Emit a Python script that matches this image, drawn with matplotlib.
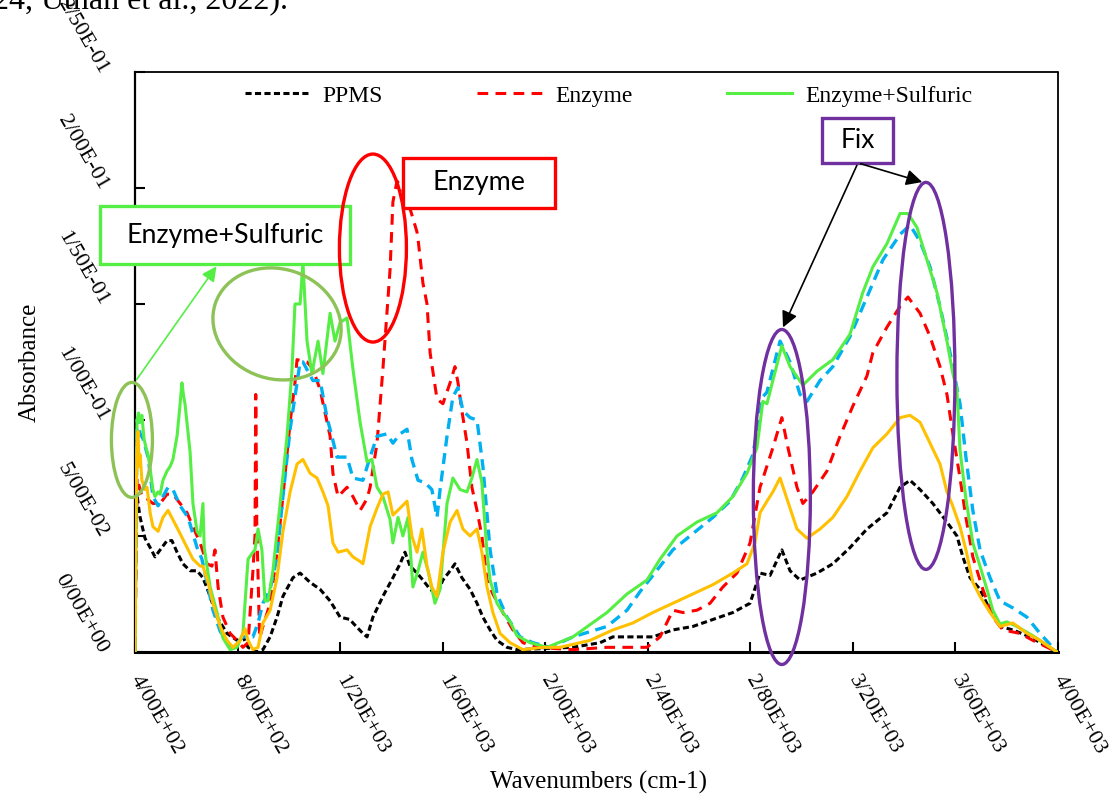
import matplotlib.pyplot as plt
from matplotlib.patches import Ellipse, Rectangle
from matplotlib.transforms import IdentityTransform

# FTIR spectra (wavenumber cm-1, absorbance)
ppms_wn = [400, 404, 408, 412, 420, 439, 459, 478, 498, 525, 544, 564, 587, 615, 642, 665, 693, 720, 759, 798,
           821, 841, 876, 899, 927, 954, 977, 1016, 1044, 1083, 1122, 1161, 1200, 1239, 1250, 1289, 1305, 1328,
           1367, 1406, 1434, 1453, 1473, 1500, 1523, 1551, 1578, 1601, 1629, 1648, 1675, 1707, 1734, 1757, 1785,
           1812, 1851, 1890, 2108, 2214, 2264, 2420, 2498, 2576, 2654, 2732, 2799, 2838, 2877, 2923, 2955, 2994,
           3060, 3122, 3189, 3255, 3333, 3384, 3423, 3462, 3512, 3567, 3606, 3629, 3657, 3696, 3735, 3774, 3824,
           3891, 3996]
ppms_abs = [0, 0.055, 0.068, 0.064, 0.058, 0.049, 0.045, 0.041, 0.044, 0.048, 0.048, 0.043, 0.038, 0.035, 0.035,
            0.032, 0.024, 0.015, 0.008, 0.005, 0.0065, 0.002, 0.0, 0.001, 0.0065, 0.015, 0.024, 0.032, 0.034, 0.030,
            0.027, 0.022, 0.015, 0.014, 0.0125, 0.008, 0.0065, 0.015, 0.024, 0.032, 0.038, 0.043, 0.037, 0.034,
            0.031, 0.027, 0.025, 0.031, 0.035, 0.038, 0.032, 0.027, 0.021, 0.015, 0.0095, 0.005, 0.002, 0.001,
            0.002, 0.004, 0.0065, 0.0065, 0.0095, 0.011, 0.014, 0.017, 0.021, 0.034, 0.033, 0.044, 0.035, 0.031,
            0.034, 0.038, 0.045, 0.053, 0.060, 0.071, 0.074, 0.070, 0.064, 0.056, 0.050, 0.041, 0.032, 0.027,
            0.018, 0.011, 0.0095, 0.0065, 0.0]

enz_wn = [400, 408, 427, 447, 470, 498, 525, 548, 576, 603, 626, 654, 681, 700, 712, 724, 743, 771, 798, 821,
          841, 860, 868, 871, 875, 886, 899, 927, 954, 977, 1005, 1024, 1032, 1071, 1094, 1122, 1161, 1172, 1192,
          1227, 1250, 1278, 1305, 1317, 1344, 1367, 1395, 1406, 1422, 1441, 1473, 1500, 1504, 1523, 1539, 1551,
          1578, 1601, 1629, 1648, 1660, 1675, 1695, 1714, 1734, 1753, 1773, 1796, 1835, 1874, 1913, 1968, 2108,
          2241, 2397, 2448, 2498, 2537, 2592, 2643, 2693, 2748, 2799, 2838, 2888, 2923, 2947, 2982, 3005, 3044,
          3099, 3150, 3200, 3255, 3278, 3333, 3384, 3415, 3462, 3501, 3540, 3567, 3590, 3618, 3641, 3668, 3707,
          3746, 3785, 3852, 3902, 3996]
enz_abs = [0, 0.075, 0.067, 0.066, 0.064, 0.064, 0.068, 0.068, 0.064, 0.060, 0.054, 0.047, 0.038, 0.037, 0.044,
           0.028, 0.015, 0.008, 0.005, 0.002, 0.004, 0.035, 0.050, 0.111, 0.055, 0.006, 0.011, 0.021, 0.043, 0.067,
           0.099, 0.116, 0.126, 0.125, 0.122, 0.113, 0.093, 0.077, 0.067, 0.071, 0.067, 0.061, 0.066, 0.071, 0.090,
           0.122, 0.165, 0.194, 0.203, 0.200, 0.191, 0.181, 0.178, 0.159, 0.150, 0.129, 0.109, 0.107, 0.116, 0.123,
           0.116, 0.104, 0.090, 0.071, 0.061, 0.050, 0.031, 0.025, 0.017, 0.0095, 0.004, 0.002, 0.001, 0.002,
           0.002, 0.0065, 0.018, 0.017, 0.018, 0.021, 0.028, 0.034, 0.047, 0.071, 0.088, 0.101, 0.088, 0.071,
           0.064, 0.069, 0.078, 0.093, 0.106, 0.119, 0.129, 0.140, 0.149, 0.153, 0.146, 0.136, 0.123, 0.111, 0.094,
           0.075, 0.058, 0.041, 0.027, 0.015, 0.0095, 0.008, 0.005, 0.0]

sulf_wn = [400, 408, 414, 420, 427, 435, 443, 451, 459, 470, 478, 490, 498, 509, 525, 537, 548, 564, 576, 583,
           590, 595, 615, 626, 642, 654, 665, 670, 693, 720, 743, 771, 798, 821, 841, 860, 868, 880, 895, 907,
           919, 938, 966, 993, 1012, 1024, 1044, 1055, 1071, 1090, 1114, 1133, 1161, 1180, 1200, 1227, 1250, 1278,
           1305, 1324, 1344, 1367, 1395, 1406, 1426, 1445, 1465, 1484, 1504, 1523, 1543, 1570, 1590, 1617, 1640,
           1668, 1695, 1714, 1734, 1753, 1773, 1785, 1812, 1835, 1863, 1890, 1941, 2007, 2108, 2241, 2319, 2397,
           2448, 2514, 2592, 2670, 2732, 2787, 2826, 2849, 2865, 2888, 2923, 2955, 3005, 3060, 3122, 3189, 3239,
           3278, 3333, 3384, 3415, 3450, 3489, 3528, 3567, 3590, 3606, 3618, 3641, 3668, 3696, 3723, 3746, 3774,
           3800, 3840, 3902, 3996]
sulf_abs = [0, 0.100, 0.103, 0.099, 0.102, 0.092, 0.088, 0.085, 0.079, 0.070, 0.067, 0.069, 0.068, 0.074, 0.078,
            0.080, 0.083, 0.093, 0.107, 0.116, 0.110, 0.107, 0.086, 0.064, 0.052, 0.050, 0.064, 0.045, 0.028, 0.017,
            0.006, 0.001, 0.002, 0.008, 0.040, 0.043, 0.044, 0.053, 0.044, 0.022, 0.022, 0.035, 0.064, 0.093, 0.121,
            0.150, 0.150, 0.168, 0.134, 0.120, 0.134, 0.120, 0.146, 0.134, 0.142, 0.144, 0.122, 0.099, 0.082, 0.083,
            0.071, 0.067, 0.057, 0.047, 0.058, 0.050, 0.058, 0.028, 0.035, 0.043, 0.035, 0.021, 0.027, 0.064, 0.075,
            0.070, 0.069, 0.075, 0.083, 0.073, 0.043, 0.031, 0.021, 0.017, 0.013, 0.007, 0.004, 0.002, 0.0065,
            0.017, 0.025, 0.031, 0.040, 0.050, 0.056, 0.060, 0.067, 0.077, 0.088, 0.108, 0.107, 0.117, 0.132, 0.123,
            0.115, 0.121, 0.126, 0.137, 0.155, 0.166, 0.176, 0.189, 0.189, 0.183, 0.169, 0.155, 0.134, 0.120, 0.113,
            0.087, 0.066, 0.047, 0.037, 0.027, 0.018, 0.012, 0.013, 0.011, 0.007, 0.0]

blue_wn = [400, 408, 412, 420, 431, 451, 470, 490, 509, 529, 548, 576, 607, 642, 661, 681, 704, 732, 759, 782,
           821, 860, 880, 899, 927, 954, 977, 1005, 1032, 1044, 1055, 1094, 1122, 1149, 1161, 1188, 1227, 1250,
           1289, 1317, 1344, 1383, 1406, 1434, 1461, 1480, 1504, 1531, 1558, 1578, 1590, 1617, 1640, 1660, 1679,
           1707, 1734, 1757, 1785, 1812, 1851, 1902, 1952, 2019, 2108, 2241, 2319, 2370, 2420, 2498, 2576, 2654,
           2721, 2771, 2810, 2849, 2865, 2916, 2955, 2994, 3021, 3072, 3122, 3189, 3255, 3317, 3384, 3423, 3462,
           3501, 3540, 3579, 3618, 3641, 3668, 3696, 3735, 3774, 3824, 3879, 3930, 3996]
blue_abs = [0, 0.100, 0.101, 0.094, 0.092, 0.084, 0.067, 0.063, 0.067, 0.071, 0.070, 0.063, 0.058, 0.045, 0.040,
            0.030, 0.018, 0.009, 0.004, 0.002, 0.0065, 0.0065, 0.0125, 0.021, 0.027, 0.041, 0.067, 0.096, 0.116,
            0.125, 0.125, 0.117, 0.117, 0.101, 0.096, 0.084, 0.084, 0.075, 0.074, 0.084, 0.093, 0.094, 0.090, 0.094,
            0.096, 0.083, 0.074, 0.073, 0.070, 0.058, 0.070, 0.093, 0.110, 0.114, 0.104, 0.101, 0.100, 0.080, 0.044,
            0.025, 0.015, 0.0065, 0.004, 0.002, 0.0065, 0.011, 0.018, 0.026, 0.033, 0.044, 0.051, 0.058, 0.065,
            0.075, 0.085, 0.110, 0.112, 0.134, 0.125, 0.111, 0.108, 0.117, 0.123, 0.136, 0.153, 0.169, 0.180, 0.184,
            0.177, 0.166, 0.149, 0.129, 0.107, 0.084, 0.061, 0.044, 0.032, 0.022, 0.019, 0.015, 0.008, 0.0]

orng_wn = [400, 404, 408, 412, 416, 420, 427, 439, 447, 459, 470, 490, 509, 529, 548, 576, 603, 626, 654, 665,
           685, 704, 732, 759, 782, 810, 829, 841, 860, 880, 899, 927, 954, 977, 1005, 1032, 1055, 1083, 1110,
           1133, 1153, 1172, 1192, 1227, 1250, 1278, 1289, 1317, 1344, 1367, 1387, 1406, 1434, 1461, 1480, 1500,
           1519, 1539, 1558, 1578, 1601, 1629, 1656, 1679, 1707, 1734, 1753, 1773, 1796, 1824, 1863, 1913, 1991,
           2058, 2175, 2264, 2342, 2420, 2498, 2576, 2654, 2732, 2787, 2818, 2838, 2865, 2888, 2916, 2943, 2982,
           3021, 3072, 3122, 3177, 3228, 3278, 3333, 3384, 3423, 3462, 3501, 3540, 3567, 3586, 3618, 3641, 3668,
           3696, 3735, 3774, 3824, 3879, 3930, 3996]
orng_abs = [0, 0.060, 0.090, 0.095, 0.080, 0.085, 0.074, 0.070, 0.071, 0.060, 0.054, 0.052, 0.058, 0.061, 0.057,
            0.051, 0.045, 0.040, 0.037, 0.037, 0.030, 0.021, 0.011, 0.005, 0.002, 0.005, 0.010, 0.005, 0.001, 0.002,
            0.0125, 0.018, 0.032, 0.052, 0.069, 0.081, 0.083, 0.077, 0.075, 0.069, 0.063, 0.047, 0.043, 0.044,
            0.041, 0.039, 0.038, 0.054, 0.062, 0.068, 0.069, 0.059, 0.062, 0.065, 0.050, 0.043, 0.053, 0.037,
            0.028, 0.024, 0.043, 0.056, 0.061, 0.053, 0.050, 0.053, 0.043, 0.028, 0.017, 0.008, 0.004, 0.001,
            0.002, 0.002, 0.005, 0.0095, 0.0125, 0.017, 0.021, 0.025, 0.029, 0.034, 0.038, 0.047, 0.060, 0.065,
            0.069, 0.075, 0.066, 0.053, 0.049, 0.053, 0.058, 0.067, 0.078, 0.088, 0.094, 0.101, 0.102, 0.099,
            0.090, 0.081, 0.069, 0.064, 0.054, 0.044, 0.030, 0.024, 0.017, 0.011, 0.0125, 0.008, 0.005, 0.0]

# tick labels as printed (slash used as decimal separator)
xticks = [400, 800, 1200, 1600, 2000, 2400, 2800, 3200, 3600, 4000]
xlabels = ["4/00E+02", "8/00E+02", "1/20E+03", "1/60E+03", "2/00E+03",
           "2/40E+03", "2/80E+03", "3/20E+03", "3/60E+03", "4/00E+03"]
yticks = [0, 0.05, 0.10, 0.15, 0.20, 0.25]
ylabels = ["0/00E+00", "5/00E-02", "1/00E-01", "1/50E-01", "2/00E-01", "2/50E-01"]

serif = 'Liberation Serif'
sans = 'Lato'

fig = plt.figure(figsize=(11.12, 7.98), dpi=100)
ax = fig.add_axes([0.1214, 0.183, 0.83, 0.7268])

ax.plot(ppms_wn, ppms_abs, color='black', lw=2.2, ls=(0, (2.0, 1.1)), label='PPMS', zorder=3)
ax.plot(enz_wn, enz_abs, color='#FF0000', lw=2.2, ls=(0, (3.5, 2.4)), label='Enzyme', zorder=3)
ax.plot(blue_wn, blue_abs, color='#00B0F0', lw=2.4, ls=(0, (3.3, 2.0)), label='_nolegend_', zorder=3)
ax.plot(sulf_wn, sulf_abs, color='#55EE44', lw=2.2, label='Enzyme+Sulfuric', zorder=3)
ax.plot(orng_wn, orng_abs, color='#FFC000', lw=2.2, label='_nolegend_', zorder=3)

ax.set_xlim(400, 4000)
ax.set_ylim(0, 0.25)

ax.set_xticks(xticks)
ax.set_xticklabels(xlabels, rotation=-60, ha='left', va='center', rotation_mode='anchor',
                   fontsize=16, family=serif)
ax.set_yticks(yticks)
ax.set_yticklabels(ylabels, rotation=-60, ha='right', va='center', rotation_mode='anchor',
                   fontsize=16, family=serif)
ax.tick_params(axis='x', direction='in', length=7, width=1.5, pad=18)
ax.tick_params(axis='y', direction='in', length=7, width=1.5, pad=23)

ax.spines['left'].set_linewidth(1.6)
ax.spines['bottom'].set_linewidth(2.2)
for s in ['top', 'right']:
    ax.spines[s].set_linestyle((0, (1, 1)))
    ax.spines[s].set_linewidth(1.3)

ax.set_xlabel('Wavenumbers (cm-1)', fontsize=18, family=serif)
ax.xaxis.set_label_coords(0.502, -0.205)
ax.set_ylabel('Absorbance', fontsize=18, family=serif)
ax.yaxis.set_label_coords(-0.102, 0.5)

ax.legend(loc='center', bbox_to_anchor=(0.513, 0.959), ncol=3, frameon=False,
          prop={'family': serif, 'size': 17}, handlelength=2.75, handletextpad=0.55, columnspacing=4.0)

# callout ellipses (size in pixels, centred on data points)
def ring(wn, a, w, h, color, angle=0):
    cx, cy = ax.transData.transform((wn, a))
    e = Ellipse((cx, cy), w, h, angle=angle, transform=IdentityTransform(),
                fill=False, ec=color, lw=2.4, zorder=6)
    fig.add_artist(e)

ring(388, 0.0914, 41, 115, '#8DC257')
ring(954, 0.1414, 130, 110, '#8DC257', angle=-18)
ring(1328, 0.1741, 67, 188, '#FF0000')
ring(2923, 0.0668, 57, 335, '#7030A0')
ring(3485, 0.119, 58, 387, '#7030A0')

# labelled boxes
def box(x0, x1, y0, y1, color, text, size):
    r = Rectangle((x0, y0), x1 - x0, y1 - y0, fc='white', ec=color, lw=2.4, zorder=7, clip_on=False)
    ax.add_patch(r)
    ax.text((x0 + x1) / 2, (y0 + y1) / 2, text, ha='center', va='center', fontsize=size,
            family=sans, zorder=8, clip_on=False)

box(263, 1239, 0.1672, 0.1922, '#55EE44', 'Enzyme+Sulfuric', 19.3)
box(1445, 2038, 0.1914, 0.2129, '#FF0000', 'Enzyme', 19.4)
box(3079, 3356, 0.2108, 0.2302, '#7030A0', 'Fix', 19)

# arrows
ax.annotate('', xy=(724, 0.1672), xytext=(400, 0.1164),
            arrowprops=dict(arrowstyle='-|>', color='#55EE44', lw=1.2, mutation_scale=22),
            annotation_clip=False, zorder=7)
ax.annotate('', xy=(2923, 0.1388), xytext=(3220, 0.2108),
            arrowprops=dict(arrowstyle='-|>', color='black', lw=1.2, mutation_scale=24),
            annotation_clip=False, zorder=7)
ax.annotate('', xy=(3481, 0.2022), xytext=(3220, 0.2108),
            arrowprops=dict(arrowstyle='-|>', color='black', lw=1.2, mutation_scale=24),
            annotation_clip=False, zorder=7)

# cut-off line of the page text above the chart (only its lower part shows)
fig.text(-0.006, 1 - 8 / 798, '24, Uthan et al., 2022).', fontsize=23, family=serif, va='baseline')

plt.savefig('out.png', dpi=100)
